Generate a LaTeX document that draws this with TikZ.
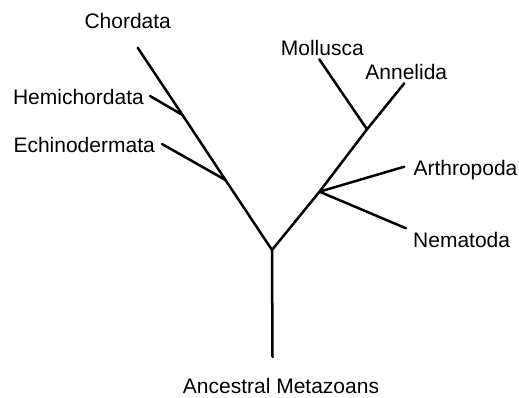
\documentclass[tikz,border=0pt]{standalone}
\usepackage{fontspec}
\setmainfont{Liberation Sans}
\usepackage{tikz}
\usetikzlibrary{positioning}

\begin{document}
\begin{tikzpicture}[
  x=1pt, y=-1pt,
  font=\fontsize{21}{25}\selectfont,
  node distance=6pt,
  branch/.style={line width=2.5pt, line cap=round, line join=round},
  taxon/.style={inner sep=0pt, text height=15pt, text depth=0pt}
]
\useasboundingbox (0,0) rectangle (519,398);

% Tree points
\coordinate (root)   at (272.5,357);
\coordinate (split)  at (272,250);
\coordinate (echJ)   at (225.5,180);
\coordinate (hemJ)   at (182.5,115);
\coordinate (chord)  at (137.7,47.7);
\coordinate (hemi)   at (150,96);
\coordinate (echi)   at (162,144);
\coordinate (artJ)   at (319.5,191.7);
\coordinate (molJ)   at (367,129.3);
\coordinate (anne)   at (404.3,83.3);
\coordinate (moll)   at (319.3,59.3);
\coordinate (arth)   at (404.3,166.7);
\coordinate (nema)   at (406,228.3);

% Branches
\draw[branch] (root) -- (split);
\draw[branch] (split) -- (echJ) -- (hemJ) -- (chord);
\draw[branch] (hemJ) -- (hemi);
\draw[branch] (echJ) -- (echi);
\draw[branch] (split) -- (artJ) -- (molJ) -- (anne);
\draw[branch] (molJ) -- (moll);
\draw[branch] (artJ) -- (arth);
\draw[branch] (artJ) -- (nema);

% Labels
\node[taxon, above=18.5pt of chord, xshift=-10pt] (lChord) {Chordata};
\node[taxon, left=6pt of hemi, yshift=-1pt] (lHemi) {Hemichordata};
\node[taxon, left=7pt of echi, yshift=-1pt] (lEchi) {Echinodermata};
\node[taxon, above=3.5pt of moll, xshift=3pt] (lMoll) {Mollusca};
\node[taxon, above=4pt of anne, xshift=2pt] (lAnne) {Annelida};
\node[taxon, right=9pt of arth, yshift=-1.6pt] (lArth) {Arthropoda};
\node[taxon, below right=4.2pt and 7pt of nema] (lNema) {Nematoda};
\node[taxon, below=21pt of root, xshift=8.5pt] (lRoot) {Ancestral Metazoans};

\end{tikzpicture}
\end{document}
